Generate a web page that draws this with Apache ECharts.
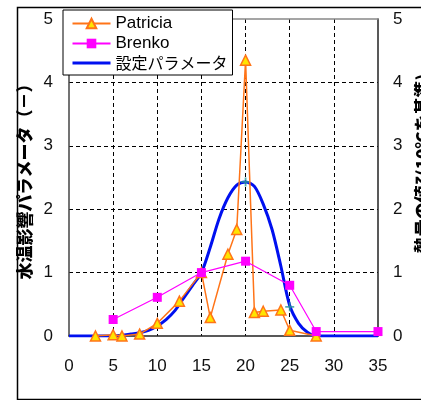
<!DOCTYPE html>
<html>
<head>
<meta charset="utf-8">
<script src="https://cdn.jsdelivr.net/npm/echarts@6/dist/echarts.min.js"></script>
<style>
  html, body { margin: 0; padding: 0; background: #fff; }
  #chart { width: 421px; height: 400px; }
</style>
</head>
<body>
<div id="chart"></div>
<script>
// Water temperature (°C) vs. influence parameter
const patriciaX = [3, 5, 6, 8, 10, 12.5, 15, 16, 18, 19, 20, 21, 22, 24, 25, 28];
const patriciaY = [0, 0.02, 0, 0.03, 0.2, 0.55, 1.0, 0.29, 1.29, 1.68, 4.35, 0.37, 0.39, 0.41, 0.09, 0];

const brenkoX = [5, 10, 15, 20, 25, 28, 35];
const brenkoY = [0.26, 0.61, 1.0, 1.18, 0.8, 0.07, 0.07];

const paramX = [0, 1, 2, 3, 4, 5, 6, 7, 8, 9, 10, 11, 12, 13, 14, 15, 16, 17, 18, 19, 20, 21, 22, 23, 24, 25, 26, 27, 28, 29, 30, 31, 32, 33, 34, 35];
const paramY = [0, 0, 0, 0, 0, 0, 0.01, 0.03, 0.05, 0.09, 0.16, 0.26, 0.4, 0.6, 0.8, 1.0, 1.4, 1.85, 2.18, 2.38, 2.43, 2.36, 2.08, 1.68, 1.1, 0.48, 0.2, 0.06, 0, 0, 0, 0, 0, 0, 0, 0];

const refX = [20, 25, 28];
const refY = [2.43, 0.46, 0];

const xTicks = { min: 0, max: 35, interval: 5 };
const yTicks = { min: 0, max: 5, interval: 1 };

const zip = (xs, ys) => xs.map((x, i) => [x, ys[i]]);

const labelFont = { fontFamily: 'Liberation Sans, Arial, sans-serif', fontSize: 17, color: '#111' };
const titleFont = { fontFamily: 'Noto Sans CJK JP', fontSize: 17, fontWeight: 900, color: '#000' };
const dashed = { color: '#000', width: 1, type: [4, 3] };

// latin names in a proportional font, katakana/kanji in the CJK face
const isCJK = s => /[\u3000-\u9fff]/.test(s);

const chart = echarts.init(document.getElementById('chart'), null, { renderer: 'canvas' });
chart.setOption({
  animation: false,
  backgroundColor: '#fff',
  graphic: [{
    type: 'rect', left: 15, top: 5, z: -10,
    shape: { width: 420, height: 392 },
    style: { fill: 'none', stroke: '#000', lineWidth: 1.5 }
  }],
  grid: { left: 69, right: 43, top: 19, bottom: 64, containLabel: false, outerBoundsMode: 'none' },
  legend: {
    orient: 'vertical', left: 63, top: 10,
    data: ['Patricia', 'Brenko', { name: '設定パラメータ', itemStyle: { opacity: 0 }, lineStyle: { width: 3 } }],
    backgroundColor: '#fff', borderColor: '#000', borderWidth: 1,
    padding: [5, 5, 4, 8], itemWidth: 38, itemHeight: 12, itemGap: 3,
    formatter: n => isCJK(n) ? '{j|' + n + '}' : '{l|' + n + '}',
    textStyle: {
      color: '#000',
      rich: {
        l: { fontFamily: 'Liberation Sans, Arial', fontSize: 17, lineHeight: 18, color: '#000' },
        j: { fontFamily: 'Noto Sans CJK JP', fontSize: 16, lineHeight: 18, color: '#000' }
      }
    },
    z: 10
  },
  xAxis: [{
    type: 'value', ...xTicks,
    axisLine: { show: true, lineStyle: { color: '#222', width: 1.5 } },
    axisTick: { show: false },
    axisLabel: { ...labelFont, margin: 22 },
    splitLine: { show: true, showMinLine: false, showMaxLine: false, lineStyle: dashed }
  }, {
    type: 'value', position: 'top', ...xTicks,
    axisLine: { show: true, onZero: false, lineStyle: { color: '#888', width: 1.5 } },
    axisTick: { show: false }, axisLabel: { show: false }, splitLine: { show: false }
  }],
  yAxis: [{
    type: 'value', ...yTicks,
    name: '水温影響パラメータ（－）', nameLocation: 'middle', nameGap: 35, nameRotate: 90,
    nameTextStyle: titleFont,
    axisLine: { show: true, lineStyle: { color: '#444', width: 1.5 } },
    axisTick: { show: false },
    axisLabel: { ...labelFont, margin: 16 },
    splitLine: { show: true, showMinLine: false, showMaxLine: false, lineStyle: dashed }
  }, {
    type: 'value', position: 'right', ...yTicks,
    name: '熱量の値ζ(10℃を基準)', nameLocation: 'middle', nameGap: 36, nameRotate: 90,
    nameTextStyle: { ...titleFont, padding: [0, 0, 0, 28] },
    axisLine: { show: true, onZero: false, lineStyle: { color: '#222', width: 1.5 } },
    axisTick: { show: false },
    axisLabel: { ...labelFont, margin: 15 },
    splitLine: { show: false }
  }],
  series: [{
    name: '設定パラメータ', type: 'line', data: zip(paramX, paramY),
    smooth: 0.3, symbol: 'none',
    lineStyle: { color: '#0010F0', width: 3 }, itemStyle: { color: '#0010F0' }, z: 2
  }, {
    name: '基準点', type: 'scatter', data: zip(refX, refY),
    symbol: 'path://M4,0H6V4H10V6H6V10H4V6H0V4H4Z', symbolSize: 9,
    itemStyle: { color: '#2A9A9A' }, z: 3
  }, {
    name: 'Patricia', type: 'line', data: zip(patriciaX, patriciaY),
    symbol: 'triangle', symbolSize: 10,
    lineStyle: { color: '#FF7418', width: 1.5 },
    itemStyle: { color: '#FFE400', borderColor: '#FF7418', borderWidth: 1.5 }, z: 4
  }, {
    name: 'Brenko', type: 'line', data: zip(brenkoX, brenkoY),
    symbol: 'rect', symbolSize: 9,
    lineStyle: { color: '#FF00FF', width: 1.2 },
    itemStyle: { color: '#FF00FF' }, z: 5
  }]
});
</script>
</body>
</html>
